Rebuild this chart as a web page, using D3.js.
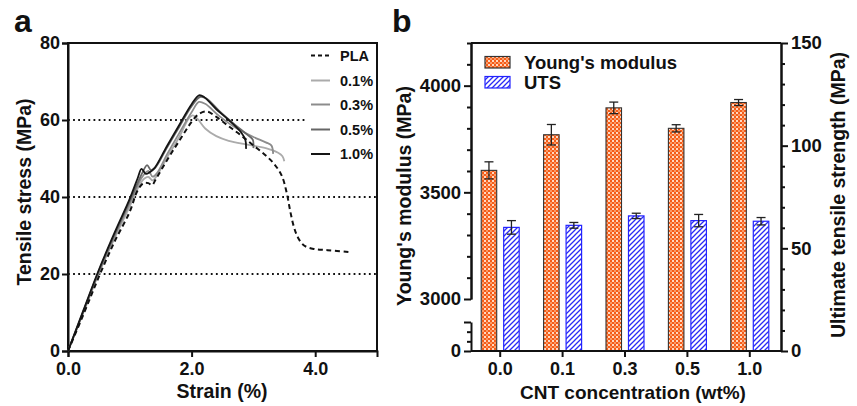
<!DOCTYPE html>
<html><head><meta charset="utf-8">
<script src="https://cdn.jsdelivr.net/npm/d3@7"></script>
<style>
html,body{margin:0;padding:0;background:#fff;}
svg text{font-family:"Liberation Sans",Arial,sans-serif;font-weight:bold;fill:#111;}
</style></head>
<body>
<svg id="c" width="857" height="406"></svg>
<script>
// ---------- Panel a data ----------
const strainTicks = [0, 2, 4];
const stressTicks = [0, 20, 40, 60, 80];
const gridStress = [20, 40, 60];
const gridEnd = [5, 5, 3.84];
const seriesNames = ["PLA", "0.1%", "0.3%", "0.5%", "1.0%"];
const curvePLA = [[0,0],[0.25,9.5],[0.5,19.3],[0.75,28.3],[1.0,36.2],[1.12,41.5],[1.22,43.6],[1.3,43.6],[1.36,43.1],[1.42,44.6],[1.6,49.5],[1.8,54.6],[2.0,59.5],[2.12,61.6],[2.25,62.2],[2.4,60.8],[2.6,58.4],[2.8,56],[3.0,53.4],[3.2,50.8],[3.35,48.3],[3.46,45.5],[3.54,41],[3.6,36],[3.66,32],[3.72,29.5],[3.82,27.4],[3.98,26.5],[4.2,26.2],[4.55,25.7]];
const curve01 = [[0,0],[0.25,10],[0.5,20.2],[0.75,29.2],[1.0,37.6],[1.2,44.2],[1.3,45.2],[1.37,44.3],[1.44,45.6],[1.6,50.2],[1.8,55.6],[1.95,60.3],[2.02,61.2],[2.1,60.2],[2.22,57.8],[2.4,55.8],[2.6,54.6],[2.9,53.6],[3.2,52.7],[3.4,51.5],[3.47,50.6],[3.5,49.3]];
const curve03 = [[0,0],[0.25,10.2],[0.5,20.5],[0.75,29.7],[1.0,38.4],[1.2,45.2],[1.3,46.8],[1.37,45.3],[1.44,46.2],[1.6,51],[1.8,56.6],[2.0,62],[2.12,64.7],[2.22,64.2],[2.45,61],[2.7,58.1],[3.0,55.6],[3.2,54.2],[3.29,53.4],[3.32,51.2]];
const curve05 = [[0,0],[0.25,10.4],[0.5,20.8],[0.75,30.1],[1.0,39],[1.2,46.2],[1.28,48.3],[1.34,47],[1.41,47.6],[1.6,52.8],[1.8,58.2],[2.0,63.6],[2.14,66],[2.24,65.6],[2.45,62.3],[2.7,58.8],[2.9,56.2],[2.99,54.9],[3.0,52.7]];
const curve10 = [[0,0],[0.25,10.6],[0.5,21.1],[0.75,30.6],[1.0,39.6],[1.13,45],[1.19,47.3],[1.26,46],[1.32,46.4],[1.4,47.5],[1.6,53.2],[1.8,58.7],[2.0,64.1],[2.12,66.4],[2.2,66],[2.4,62.8],[2.6,60],[2.8,56.8],[2.87,54.8],[2.88,52.5]];
const curves = [curvePLA, curve01, curve03, curve05, curve10];
const curveColors = ["#111", "#ababab", "#8c8c8c", "#666", "#151515"];

// ---------- Panel b data ----------
const cntCats = ["0.0", "0.1", "0.3", "0.5", "1.0"];
const youngVals = [3603, 3770, 3896, 3800, 3921];
const youngErr = [40, 48, 27, 17, 14];
const utsVals = [60.2, 61.2, 65.8, 63.5, 63.2];
const utsErr = [3.3, 1.4, 1.3, 3.0, 1.8];
const youngTicks = [3000, 3500, 4000];
const youngMinor = d3.range(3000, 4201, 100);
const lowTicks = [0, 50, 100, 150];
const utsTicks = [0, 50, 100, 150];
const utsMinor = d3.range(0, 151, 10);
const legendB = ["Young's modulus", "UTS"];

const svg = d3.select("#c");
const defs = svg.append("defs");
const pc = defs.append("pattern").attr("id","chk").attr("patternUnits","userSpaceOnUse").attr("width",4).attr("height",4);
pc.append("rect").attr("width",4).attr("height",4).attr("fill","#f55c18");
pc.append("rect").attr("width",2).attr("height",2).attr("fill","#ffd9c2");
pc.append("rect").attr("x",2).attr("y",2).attr("width",2).attr("height",2).attr("fill","#fa9a66");
const ph = defs.append("pattern").attr("id","hat").attr("patternUnits","userSpaceOnUse").attr("width",5).attr("height",5);
ph.append("rect").attr("width",5).attr("height",5).attr("fill","#fff");
ph.append("path").attr("d","M-1,6 L6,-1 M-1,1 L1,-1 M4,6 L6,4").attr("stroke","#2a2af5").attr("stroke-width",1.3);

// ================= Panel a =================
const xA = d3.scaleLinear().domain([0,5]).range([68,377]);
const yA = d3.scaleLinear().domain([0,80]).range([351,43]);
const gA = svg.append("g");

gA.selectAll(".grid").data(gridStress).enter().append("line")
  .attr("x1", xA(0)).attr("x2", (d,i)=>xA(gridEnd[i]))
  .attr("y1", d=>yA(d)).attr("y2", d=>yA(d))
  .attr("stroke","#111").attr("stroke-width",2).attr("stroke-dasharray","1.8,3.3");

gA.append("rect").attr("x",xA(0)).attr("y",yA(80)).attr("width",xA(5)-xA(0)).attr("height",yA(0)-yA(80))
  .attr("fill","none").attr("stroke","#111").attr("stroke-width",2);

const axXA = gA.append("g").attr("transform",`translate(0,${yA(0)})`)
  .call(d3.axisBottom(xA).tickValues(strainTicks).tickFormat(d3.format(".1f")).tickSize(6).tickPadding(5));
const axYA = gA.append("g").attr("transform",`translate(${xA(0)},0)`)
  .call(d3.axisLeft(yA).tickValues(stressTicks).tickFormat(d3.format("d")).tickSize(6).tickPadding(2));
[axXA, axYA].forEach(a=>{
  a.select(".domain").attr("stroke","#111").attr("stroke-width",2);
  a.selectAll(".tick line").attr("stroke","#111").attr("stroke-width",2);
  a.selectAll(".tick text").attr("font-size",18).attr("fill","#111")
    .style("font-family","'Liberation Sans',Arial,sans-serif").style("font-weight","bold");
});

const lineGen = d3.line().x(d=>xA(d[0])).y(d=>yA(d[1])).curve(d3.curveCatmullRom.alpha(0.5));
const order = [1,2,3,4,0];
order.forEach(i=>{
  gA.append("path").attr("d", lineGen(curves[i])).attr("fill","none")
    .attr("stroke", curveColors[i]).attr("stroke-width", i===0?2:1.8)
    .attr("stroke-dasharray", i===0?"5,3.5":null).attr("stroke-linejoin","round");
});

const legY = [55.5, 80.5, 104.5, 129.5, 154];
seriesNames.forEach((n,i)=>{
  gA.append("line").attr("x1",311).attr("x2",330).attr("y1",legY[i]).attr("y2",legY[i])
    .attr("stroke",curveColors[i]).attr("stroke-width",2).attr("stroke-dasharray", i===0?"4,3":null);
  gA.append("text").attr("x",340).attr("y",legY[i]+5).attr("font-size",14.5).text(n);
});

gA.append("text").attr("x",222).attr("y",398).attr("text-anchor","middle").attr("font-size",19.5).text("Strain (%)");
gA.append("text").attr("transform","translate(31,192) rotate(-90)").attr("text-anchor","middle").attr("font-size",19.5).text("Tensile stress (MPa)");
gA.append("text").attr("x",14).attr("y",32).attr("font-size",32).text("a");

// ================= Panel b =================
const gB = svg.append("g");
const xB = d3.scaleBand().domain(cntCats).range([469,781]);
const xSub = d3.scaleBand().domain(["ym","uts"]).range([-19,19]).paddingInner(0.31);
const yL = d3.scaleLinear().domain([3000,4200]).range([299,43]);
const yLow = d3.scaleLinear().domain([0,150]).range([351,322]);
const yR = d3.scaleLinear().domain([0,150]).range([351,43]);
const base = yLow(0);

const cx = c => xB(c) + xB.bandwidth()/2;
gB.selectAll(".ym").data(cntCats).enter().append("rect")
  .attr("x", c=>cx(c)+xSub("ym")).attr("width", xSub.bandwidth())
  .attr("y", (c,i)=>yL(youngVals[i])).attr("height",(c,i)=>base-yL(youngVals[i]))
  .attr("fill","url(#chk)").attr("stroke","#333").attr("stroke-width",1.1);
gB.selectAll(".ut").data(cntCats).enter().append("rect")
  .attr("x", c=>cx(c)+xSub("uts")).attr("width", xSub.bandwidth())
  .attr("y", (c,i)=>yR(utsVals[i])).attr("height",(c,i)=>base-yR(utsVals[i]))
  .attr("fill","url(#hat)").attr("stroke","#2323ff").attr("stroke-width",1.2);

function errBar(x, yTop, yBot){
  gB.append("line").attr("x1",x).attr("x2",x).attr("y1",yTop).attr("y2",yBot).attr("stroke","#222").attr("stroke-width",1.3);
  [yTop,yBot].forEach(y=>gB.append("line").attr("x1",x-4.5).attr("x2",x+4.5).attr("y1",y).attr("y2",y).attr("stroke","#222").attr("stroke-width",1.3));
}
cntCats.forEach((c,i)=>{
  const xm = cx(c)+xSub("ym")+xSub.bandwidth()/2;
  errBar(xm, yL(youngVals[i]+youngErr[i]), yL(youngVals[i]-youngErr[i]));
  const xu = cx(c)+xSub("uts")+xSub.bandwidth()/2;
  errBar(xu, yR(utsVals[i]+utsErr[i]), yR(utsVals[i]-utsErr[i]));
});

gB.append("line").attr("x1",471).attr("x2",781).attr("y1",yR(150)).attr("y2",yR(150)).attr("stroke","#111").attr("stroke-width",2);

function styleAxis(a, fs){
  a.select(".domain").attr("stroke","#111").attr("stroke-width",2);
  a.selectAll(".tick line").attr("stroke","#111").attr("stroke-width",2);
  a.selectAll(".tick text").attr("font-size",fs).attr("fill","#111")
    .style("font-family","'Liberation Sans',Arial,sans-serif").style("font-weight","bold");
}
const axXB = gB.append("g").attr("transform",`translate(0,${base})`)
  .call(d3.axisBottom(xB).tickSize(6).tickPadding(5).tickSizeOuter(0));
styleAxis(axXB, 18);
axXB.select(".domain").attr("d",`M471,0H781`);

const axL = gB.append("g").attr("transform","translate(471,0)")
  .call(d3.axisLeft(yL).tickValues(youngTicks).tickSize(7).tickPadding(3).tickSizeOuter(0).tickFormat(d3.format("d")));
styleAxis(axL, 18.5);
const axLm = gB.append("g").attr("transform","translate(471,0)")
  .call(d3.axisLeft(yL).tickValues(youngMinor.filter(v=>!youngTicks.includes(v))).tickSize(4).tickFormat("").tickSizeOuter(0));
styleAxis(axLm, 18);
const axLow = gB.append("g").attr("transform","translate(471,0)")
  .call(d3.axisLeft(yLow).tickValues(lowTicks).tickSize(4).tickPadding(6).tickSizeOuter(0).tickFormat(d=>d===0?"0":""));
styleAxis(axLow, 18.5);
axLow.selectAll(".tick").filter(d=>d===0||d===150).select("line").attr("x2",-7);

const axR = gB.append("g").attr("transform","translate(781,0)")
  .call(d3.axisRight(yR).tickValues(utsTicks).tickSize(7).tickPadding(3).tickSizeOuter(0));
styleAxis(axR, 18.5);
const axRm = gB.append("g").attr("transform","translate(781,0)")
  .call(d3.axisRight(yR).tickValues(utsMinor.filter(v=>!utsTicks.includes(v))).tickSize(4).tickFormat("").tickSizeOuter(0));
styleAxis(axRm, 18);

const legFill = ["url(#chk)","url(#hat)"], legStroke = ["#333","#2323ff"], legYb = [56.5, 76.5];
legendB.forEach((n,i)=>{
  gB.append("rect").attr("x",485).attr("y",legYb[i]).attr("width",25).attr("height",11.5)
    .attr("fill",legFill[i]).attr("stroke",legStroke[i]).attr("stroke-width",1.2);
  gB.append("text").attr("x",524).attr("y",legYb[i]+12.5).attr("font-size",18.5).text(n);
});

gB.append("text").attr("x",633).attr("y",399).attr("text-anchor","middle").attr("font-size",19).text("CNT concentration (wt%)");
gB.append("text").attr("transform","translate(411,196) rotate(-90)").attr("text-anchor","middle").attr("font-size",19.5).text("Young's modulus (MPa)");
gB.append("text").attr("transform","translate(845,195) rotate(-90)").attr("text-anchor","middle").attr("font-size",19.5).text("Ultimate tensile strength (MPa)");
gB.append("text").attr("x",392).attr("y",32).attr("font-size",32).text("b");
</script>
</body></html>
